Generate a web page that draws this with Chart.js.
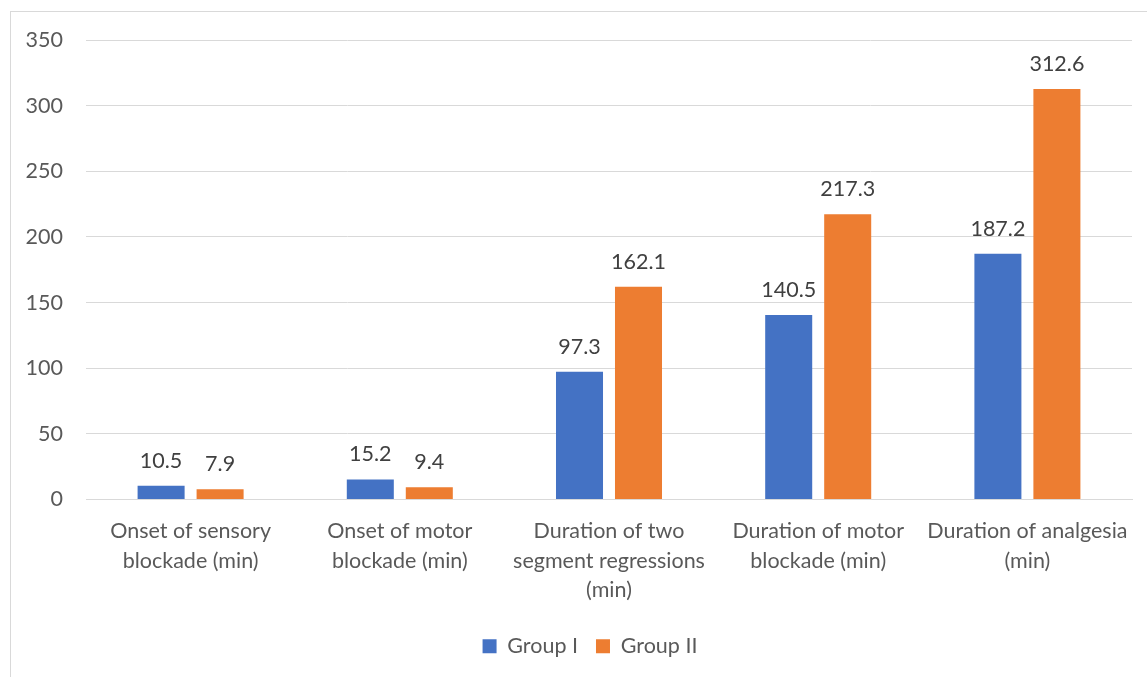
<!DOCTYPE html>
<html>
<head>
<meta charset="utf-8">
<script src="https://cdn.jsdelivr.net/npm/chart.js@4"></script>
<style>
  html, body { margin: 0; padding: 0; background: #fff; }
  #wrap { position: relative; width: 1147px; height: 677px; overflow: hidden; }
  #frame { position: absolute; left: 10px; top: 11px; width: 1160px; height: 700px; border: 1px solid #d9d9d9; box-sizing: border-box; pointer-events: none; }
  canvas { position: absolute; left: 0; top: 0; }
</style>
</head>
<body>
<div id="wrap">
  <div id="frame"></div>
  <canvas id="c" width="1147" height="677"></canvas>
</div>
<script>
const categories = [
  ["Onset of sensory", "blockade (min)"],
  ["Onset of motor", "blockade (min)"],
  ["Duration of two", "segment regressions", "(min)"],
  ["Duration of motor", "blockade (min)"],
  ["Duration of analgesia", "(min)"]
];
const groupI = [10.5, 15.2, 97.3, 140.5, 187.2];
const groupII = [7.9, 9.4, 162.1, 217.3, 312.6];
const seriesNames = ["Group I", "Group II"];
const yTicks = [0, 50, 100, 150, 200, 250, 300, 350];

const FONT = "Lato, 'Open Sans', sans-serif";
const FS = 21.5;
const TXT = "#595959";

const valueLabels = {
  id: 'valueLabels',
  afterDatasetsDraw(chart) {
    const ctx = chart.ctx;
    ctx.save();
    ctx.font = FS + "px " + FONT;
    ctx.fillStyle = "#404040";
    ctx.textAlign = "center";
    ctx.textBaseline = "middle";
    chart.data.datasets.forEach((ds, di) => {
      const meta = chart.getDatasetMeta(di);
      meta.data.forEach((bar, i) => {
        ctx.fillText(ds.data[i].toFixed(1), bar.x, bar.y - 25);
      });
    });
    ctx.restore();
  }
};

const legendShift = {
  id: 'legendShift',
  afterLayout(chart) {
    if (chart.legend) {
      chart.legend.left += 24;
      chart.legend.right += 24;
    }
  }
};

new Chart(document.getElementById('c'), {
  type: 'bar',
  data: {
    labels: categories,
    datasets: [
      { label: seriesNames[0], data: groupI, backgroundColor: '#4472C4', categoryPercentage: 0.564, barPercentage: 0.797 },
      { label: seriesNames[1], data: groupII, backgroundColor: '#ED7D31', categoryPercentage: 0.564, barPercentage: 0.797 }
    ]
  },
  options: {
    responsive: false,
    animation: false,
    layout: { padding: { top: 40, right: 15, left: 0, bottom: 10 } },
    plugins: {
      legend: {
        position: 'bottom',
        labels: {
          font: { family: FONT, size: FS },
          color: TXT,
          boxWidth: 14,
          boxHeight: 14,
          padding: 18,
          generateLabels(chart) {
            return chart.data.datasets.map((ds, i) => ({
              text: ds.label, fillStyle: ds.backgroundColor, strokeStyle: ds.backgroundColor,
              lineWidth: 0, datasetIndex: i, fontColor: TXT
            }));
          }
        }
      },
      tooltip: { enabled: false }
    },
    scales: {
      x: {
        grid: { display: false, drawTicks: false },
        border: { display: true, color: '#d9d9d9', width: 1 },
        ticks: { font: { family: FONT, size: FS, lineHeight: 1.37 }, color: TXT, padding: 17, maxRotation: 0, autoSkip: false },
        afterFit(s) { s.height = 118; }
      },
      y: {
        min: 0, max: 350,
        afterBuildTicks(s) { s.ticks = yTicks.map(v => ({ value: v })); },
        grid: { color: '#d9d9d9', drawTicks: false },
        border: { display: false },
        ticks: { font: { family: FONT, size: FS }, color: TXT, padding: 23 },
        afterFit(s) { s.width = 86; }
      }
    }
  },
  plugins: [valueLabels, legendShift]
});
</script>
</body>
</html>
